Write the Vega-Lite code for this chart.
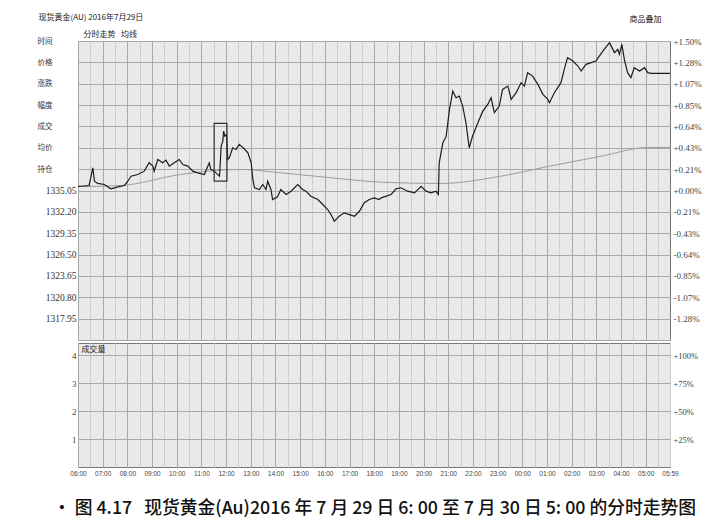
{
  "$schema": "https://vega.github.io/schema/vega-lite/v6.json",
  "padding": {"left": 36, "top": 12, "right": 12, "bottom": 6},
  "background": "white",
  "spacing": 3,
  "bounds": "flush",
  "config": {
    "view": {"fill": "#e9e9e9", "stroke": "#777", "strokeWidth": 1},
    "axis": {"labelFont": "Liberation Serif", "labelColor": "#444", "titleFont": "Noto Sans CJK SC", "titleColor": "#222", "tickCount": 200}
  },
  "datasets": {
    "price": [
      {"m":0,"p":1335.60},{"m":7,"p":1335.62},{"m":27,"p":1335.72},{"m":36,"p":1338.08},{"m":40,"p":1336.29},{"m":48,"p":1335.99},{"m":64,"p":1335.85},{"m":80,"p":1335.28},{"m":97,"p":1335.54},{"m":113,"p":1335.72},{"m":121,"p":1336.29},{"m":129,"p":1336.96},{"m":145,"p":1337.19},{"m":161,"p":1337.63},{"m":173,"p":1338.75},{"m":182,"p":1338.30},{"m":185,"p":1337.63},{"m":194,"p":1339.19},{"m":206,"p":1338.75},{"m":214,"p":1339.10},{"m":222,"p":1338.30},{"m":234,"p":1338.75},{"m":246,"p":1339.19},{"m":255,"p":1338.52},{"m":267,"p":1338.30},{"m":279,"p":1337.63},{"m":291,"p":1337.41},{"m":307,"p":1337.19},{"m":319,"p":1338.75},{"m":323,"p":1337.86},{"m":331,"p":1337.63},{"m":344,"p":1336.96},{"m":348,"p":1340.97},{"m":352,"p":1341.64},{"m":354,"p":1342.97},{"m":357,"p":1342.30},{"m":361,"p":1342.53},{"m":364,"p":1339.19},{"m":368,"p":1339.42},{"m":376,"p":1340.75},{"m":384,"p":1340.53},{"m":392,"p":1341.20},{"m":404,"p":1340.62},{"m":413,"p":1340.09},{"m":421,"p":1338.75},{"m":425,"p":1336.52},{"m":429,"p":1335.41},{"m":441,"p":1335.18},{"m":449,"p":1335.85},{"m":457,"p":1335.18},{"m":461,"p":1336.29},{"m":469,"p":1335.18},{"m":473,"p":1333.85},{"m":485,"p":1334.21},{"m":493,"p":1335.18},{"m":506,"p":1334.52},{"m":518,"p":1334.96},{"m":534,"p":1335.85},{"m":546,"p":1335.18},{"m":554,"p":1334.96},{"m":566,"p":1334.29},{"m":583,"p":1333.85},{"m":595,"p":1333.18},{"m":607,"p":1332.51},{"m":615,"p":1331.84},{"m":623,"p":1330.95},{"m":635,"p":1331.62},{"m":647,"p":1332.07},{"m":660,"p":1331.84},{"m":672,"p":1331.62},{"m":684,"p":1332.28},{"m":696,"p":1333.41},{"m":708,"p":1333.85},{"m":720,"p":1334.07},{"m":732,"p":1333.85},{"m":737,"p":1334.07},{"m":761,"p":1334.52},{"m":773,"p":1335.28},{"m":785,"p":1335.41},{"m":801,"p":1334.96},{"m":818,"p":1334.74},{"m":834,"p":1335.62},{"m":846,"p":1334.96},{"m":858,"p":1334.74},{"m":870,"p":1334.96},{"m":876,"p":1334.52},{"m":878,"p":1338.75},{"m":887,"p":1341.42},{"m":895,"p":1342.30},{"m":903,"p":1345.87},{"m":911,"p":1348.32},{"m":919,"p":1347.43},{"m":927,"p":1347.65},{"m":935,"p":1346.31},{"m":943,"p":1344.09},{"m":951,"p":1340.75},{"m":959,"p":1342.30},{"m":972,"p":1344.09},{"m":984,"p":1345.64},{"m":996,"p":1346.54},{"m":1004,"p":1347.43},{"m":1012,"p":1345.43},{"m":1024,"p":1346.31},{"m":1032,"p":1348.54},{"m":1045,"p":1348.98},{"m":1053,"p":1347.21},{"m":1065,"p":1348.10},{"m":1077,"p":1349.44},{"m":1085,"p":1348.98},{"m":1093,"p":1350.77},{"m":1105,"p":1350.32},{"m":1118,"p":1349.21},{"m":1130,"p":1347.88},{"m":1142,"p":1347.21},{"m":1146,"p":1346.77},{"m":1158,"p":1348.10},{"m":1174,"p":1349.44},{"m":1182,"p":1351.22},{"m":1190,"p":1352.78},{"m":1203,"p":1352.32},{"m":1215,"p":1351.66},{"m":1223,"p":1350.99},{"m":1235,"p":1351.88},{"m":1247,"p":1352.11},{"m":1259,"p":1352.32},{"m":1267,"p":1352.99},{"m":1279,"p":1353.89},{"m":1292,"p":1354.78},{"m":1304,"p":1353.45},{"m":1312,"p":1353.89},{"m":1316,"p":1353.22},{"m":1322,"p":1354.56},{"m":1328,"p":1352.55},{"m":1336,"p":1350.77},{"m":1344,"p":1350.11},{"m":1352,"p":1351.44},{"m":1365,"p":1350.99},{"m":1377,"p":1351.44},{"m":1385,"p":1350.77},{"m":1393,"p":1350.68},{"m":1439,"p":1350.68}
    ],
    "avg": [
      {"m":0,"a":1335.60},{"m":7,"a":1335.58},{"m":104,"a":1335.72},{"m":250,"a":1337.19},{"m":396,"a":1337.86},{"m":493,"a":1337.41},{"m":615,"a":1336.75},{"m":737,"a":1336.16},{"m":882,"a":1335.99},{"m":1028,"a":1336.96},{"m":1143,"a":1338.26},{"m":1271,"a":1339.63},{"m":1386,"a":1340.79},{"m":1439,"a":1340.79}
    ],
    "box": [{"m1":331,"m2":362,"p1":1336.29,"p2":1344.0}]
  },
  "vconcat": [
    {
      "width": 592,
      "height": 299,
      "layer": [
        {
          "layer": [
            {
              "data": {"name": "avg"},
              "mark": {"type": "line", "color": "#9c9c9c", "strokeWidth": 1, "interpolate": "monotone"},
              "encoding": {
                "x": {"field": "m", "type": "quantitative", "scale": {"domain": [0, 1439], "nice": false, "zero": false},
                  "axis": {"orient": "top", "values": [0,30,60,90,120,150,180,210,240,270,300,330,360,390,420,450,480,510,540,570,600,630,660,690,720,750,780,810,840,870,900,930,960,990,1020,1050,1080,1110,1140,1170,1200,1230,1260,1290,1320,1350,1380,1410],
                    "tickCount": 200, "labels": false, "ticks": false, "domain": false, "grid": true,
                    "gridColor": {"condition": {"test": "datum.value % 60 == 0", "value": "#a9a9a9"}, "value": "#cdcdcd"},
                    "title": "分时走势\u00a0\u00a0\u00a0均线", "titleX": 5, "titleY": -7, "titleAlign": "left", "titleBaseline": "middle", "titleAngle": 0, "titleFontSize": 8, "titleFontWeight": "normal", "minExtent": 0, "maxExtent": 0}},
                "y": {"field": "a", "type": "quantitative", "scale": {"domain": [1315.1, 1355.0], "nice": false, "zero": false},
                  "axis": {"orient": "left", "values": [1315.1,1317.95,1320.8,1323.65,1326.5,1329.35,1332.2,1335.05,1337.9,1340.75,1343.6,1346.45,1349.3,1352.15,1355.0],
                    "tickCount": 200, "grid": true, "gridColor": "#a9a9a9", "ticks": false, "domain": false, "labelFlush": false, "labelOverlap": false,
                    "labelExpr": "datum.value > 1336 ? ['','持仓','均价','成交','幅度','涨跌','价格','时间'][round((datum.value-1335.05)/2.85)] : (datum.value < 1316 ? '' : format(datum.value, '.2f'))",
                    "labelFont": {"condition": {"test": "datum.value > 1336", "value": "Noto Sans CJK SC"}, "value": "Liberation Serif"},
                    "labelFontSize": {"condition": {"test": "datum.value > 1336", "value": 7.5}, "value": 9.5},
                    "labelPadding": {"condition": {"test": "datum.value > 1336", "value": 26}, "value": 2},
                    "labelColor": "#333",
                    "title": "现货黄金(AU) 2016年7月29日", "titleX": -40, "titleY": -24, "titleAngle": 0, "titleAlign": "left", "titleBaseline": "middle", "titleFontSize": 8, "titleFontWeight": "normal", "minExtent": 41, "maxExtent": 41}}
              }
            },
            {
              "data": {"name": "price"},
              "mark": {"type": "line", "color": "#1c1c1c", "strokeWidth": 1.2},
              "encoding": {
                "x": {"field": "m", "type": "quantitative"},
                "y": {"field": "p", "type": "quantitative"}
              }
            },
            {
              "data": {"name": "box"},
              "mark": {"type": "rect", "fill": null, "stroke": "#333", "strokeWidth": 1.2},
              "encoding": {
                "x": {"field": "m1", "type": "quantitative"},
                "x2": {"field": "m2"},
                "y": {"field": "p1", "type": "quantitative"},
                "y2": {"field": "p2"}
              }
            }
          ]
        },
        {
          "data": {"name": "price"},
          "mark": {"type": "line", "opacity": 0},
          "encoding": {
            "x": {"field": "m", "type": "quantitative"},
            "y": {"field": "p", "type": "quantitative", "scale": {"domain": [1315.1, 1355.0], "nice": false, "zero": false},
              "axis": {"orient": "right", "values": [1317.95,1320.8,1323.65,1326.5,1329.35,1332.2,1335.05,1337.9,1340.75,1343.6,1346.45,1349.3,1352.15,1355.0],
                "tickCount": 200, "grid": false, "ticks": false, "domain": false, "labelFlush": false, "labelOverlap": false, "labelFontSize": 9, "labelPadding": 3,
                "labelExpr": "(datum.value < 1335.04 ? '-' : '+') + ['0.00','0.21','0.43','0.64','0.85','1.07','1.28','1.50'][abs(round((datum.value-1335.05)/2.85))] + '%'",
                "title": "商品叠加", "titleX": -9, "titleY": -22, "titleAngle": 0, "titleAlign": "right", "titleBaseline": "middle", "titleFontSize": 8, "titleFontWeight": "normal"}}
          }
        }
      ],
      "resolve": {"scale": {"y": "independent"}}
    },
    {
      "width": 592,
      "height": 124,
      "data": {"name": "price"},
      "layer": [
        {
          "mark": {"type": "point", "opacity": 0},
          "encoding": {
            "x": {"field": "m", "type": "quantitative", "scale": {"domain": [0, 1439], "nice": false, "zero": false},
              "axis": {"orient": "bottom", "values": [0,30,60,90,120,150,180,210,240,270,300,330,360,390,420,450,480,510,540,570,600,630,660,690,720,750,780,810,840,870,900,930,960,990,1020,1050,1080,1110,1140,1170,1200,1230,1260,1290,1320,1350,1380,1410,1439],
                "tickCount": 200,
                "labelExpr": "datum.value == 1439 ? '05:59' : (datum.value % 60 != 0 ? '' : ((((floor(datum.value/60)+6)%24) < 10 ? '0' : '') + ((floor(datum.value/60)+6)%24) + ':00'))",
                "labelFont": "Liberation Sans", "labelFontSize": 6.5, "labelColor": "#444", "labelFlush": false, "labelOverlap": false, "labelPadding": 3,
                "ticks": false, "domain": false, "grid": true,
                "gridColor": {"condition": {"test": "datum.value % 60 == 0", "value": "#a9a9a9"}, "value": "#cdcdcd"},
                "title": "•\u00a0图\u00a04.17\u00a0\u00a0\u00a0现货黄金(Au)2016\u00a0年\u00a07\u00a0月\u00a029\u00a0日\u00a06:\u00a000\u00a0至\u00a07\u00a0月\u00a030\u00a0日\u00a05:\u00a000\u00a0的分时走势图",
                "titleFontSize": 17.8, "titleColor": "#111", "titlePadding": 23, "titleFontWeight": 500}},
            "y": {"datum": 0, "type": "quantitative", "scale": {"domain": [0, 4.43], "nice": false, "zero": false},
              "axis": {"orient": "left", "values": [1,2,3,4], "tickCount": 200, "grid": true, "gridColor": "#a9a9a9", "ticks": false, "domain": false, "labelFontSize": 9, "labelPadding": 2, "format": "d", "labelFlush": false,
                "title": "成交量", "titleX": 3, "titleY": 2, "titleAngle": 0, "titleAlign": "left", "titleBaseline": "top", "titleFontSize": 8, "titleFontWeight": "normal", "minExtent": 41, "maxExtent": 41}}
          }
        },
        {
          "mark": {"type": "point", "opacity": 0},
          "encoding": {
            "x": {"field": "m", "type": "quantitative"},
            "y": {"datum": 0, "type": "quantitative", "scale": {"domain": [0, 4.43], "nice": false, "zero": false},
              "axis": {"orient": "right", "values": [1,2,3,4], "tickCount": 200, "grid": false, "ticks": false, "domain": false, "labelFontSize": 8.5, "labelPadding": 3, "labelFlush": false,
                "labelExpr": "'+' + (datum.value*25) + '%'", "title": null}}
          }
        }
      ],
      "resolve": {"scale": {"y": "independent"}}
    }
  ]
}
